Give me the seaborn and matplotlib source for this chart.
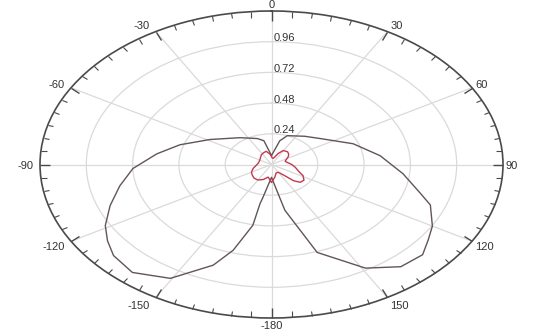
import numpy as np
import pandas as pd
import matplotlib.pyplot as plt
import seaborn as sns

# outer (grey) pattern: angle in degrees, radius
outer_deg = [0, 13, 20, 38, 51, 69, 83, 96, 106, 111, 120, 126, 132, 140, 149, 161, 169, 170.5, 180,
             -170, -169, -168.5, -163.5, -159, -149.5, -139.5, -131, -125, -119, -111, -102, -92.5,
             -82, -72, -58.5, -38, -20, -12, 0]
outer_r = [0.07, 0.19, 0.24, 0.28, 0.323, 0.453, 0.567, 0.685, 0.80, 0.882, 0.963, 1.004, 1.054, 1.043,
           0.945, 0.727, 0.365, 0.27, 0.10,
           0.27, 0.31, 0.485, 0.699, 0.843, 1.033, 1.110, 1.085, 1.038, 0.985, 0.896, 0.804, 0.719,
           0.600, 0.499, 0.374, 0.266, 0.216, 0.19, 0.07]

# inner (red) pattern
inner_deg = [-180, -170, -160, -150, -140, -130, -120, -108, -95, -83, -70, -60, -45, -35, -25, -15, -5,
             5, 12, 22, 29, 40, 48, 55, 62, 70, 80, 90, 100, 112, 118, 126, 133, 138, 142, 150, 160, 170, 180]
inner_r = [0.14, 0.10, 0.125, 0.14, 0.14, 0.13, 0.12, 0.10, 0.08, 0.07, 0.068, 0.07, 0.08, 0.092, 0.10,
           0.107, 0.08, 0.05, 0.05, 0.093, 0.125, 0.13, 0.12, 0.106, 0.088, 0.075, 0.085, 0.105, 0.125,
           0.155, 0.185, 0.208, 0.204, 0.17, 0.11, 0.07, 0.07, 0.10, 0.14]

theta_ticks = [0, 30, 60, 90, 120, 150, 180, -150, -120, -90, -60, -30]
theta_labels = ["0", "30", "60", "90", "120", "150", "-180", "-150", "-120", "-90", "-60", "-30"]
r_ticks = [0.24, 0.48, 0.72, 0.96]
r_labels = ["0.24", "0.48", "0.72", "0.96"]
r_max = 1.2

sns.set_theme(style="white")
plt.rcParams["font.family"] = ["Liberation Sans", "DejaVu Sans"]

outer = pd.DataFrame({"theta": np.deg2rad(outer_deg), "r": outer_r})
inner = pd.DataFrame({"theta": np.deg2rad(inner_deg), "r": inner_r})

fig = plt.figure(figsize=(5.38, 3.34), dpi=100)
ax = fig.add_axes([40 / 538, 16 / 334, 463 / 538, 307 / 334], projection="polar")
ax.set_aspect("auto")
ax.set_theta_zero_location("N")
ax.set_theta_direction(-1)
ax.set_ylim(0, r_max)

sns.lineplot(data=outer, x="theta", y="r", sort=False, estimator=None, ax=ax, color="#625558", lw=1.0)
sns.lineplot(data=inner, x="theta", y="r", sort=False, estimator=None, ax=ax, color="#c23a4c", lw=1.0)
ax.set_xlabel("")
ax.set_ylabel("")

ax.set_xticks(np.deg2rad(np.arange(0, 360, 30)))
ax.set_xticks(np.deg2rad(np.arange(0, 360, 5)), minor=True)
ax.set_xticklabels([])
ax.set_yticks(r_ticks)
ax.set_yticklabels([])
ax.grid(True, which="major", color="#dadada", lw=0.9)
ax.grid(False, which="minor")
# tick2 sits on the outer rim of a polar axes
ax.tick_params(axis="x", which="major", bottom=False, top=True, direction="in",
               length=7, width=1.0, color="#4a4a4a")
ax.tick_params(axis="x", which="minor", bottom=False, top=True, direction="in",
               length=4, width=0.8, color="#4a4a4a")
ax.spines["polar"].set_color("#4a4a4a")
ax.spines["polar"].set_linewidth(1.2)

# angle labels around the rim (offsets in pixels, converted to points)
for d, lab in zip(theta_ticks, theta_labels):
    s, c = np.sin(np.deg2rad(d)), np.cos(np.deg2rad(d))
    if d == 0:
        ha, va, dx, dy = "center", "bottom", 0, 0.5
    elif d == 180:
        ha, va, dx, dy = "center", "top", 0, -3
    elif s > 0:
        ha, va, dx, dy = "left", "center", 3, c * 8 - 1.5
    else:
        ha, va, dx, dy = "right", "center", -6, c * 8 - 1.5
    ax.annotate(lab, xy=(np.deg2rad(d), r_max), xytext=(dx * 0.72, dy * 0.72),
                textcoords="offset points", ha=ha, va=va, fontsize=8, color="#333333",
                annotation_clip=False)

# radial labels along the 0 spoke
for rv, lab in zip(r_ticks, r_labels):
    ax.annotate(lab, xy=(0, rv), xytext=(1.5, 2.5), textcoords="offset points",
                ha="left", va="center", fontsize=8, color="#333333")

fig.savefig("out.png", dpi=100)
